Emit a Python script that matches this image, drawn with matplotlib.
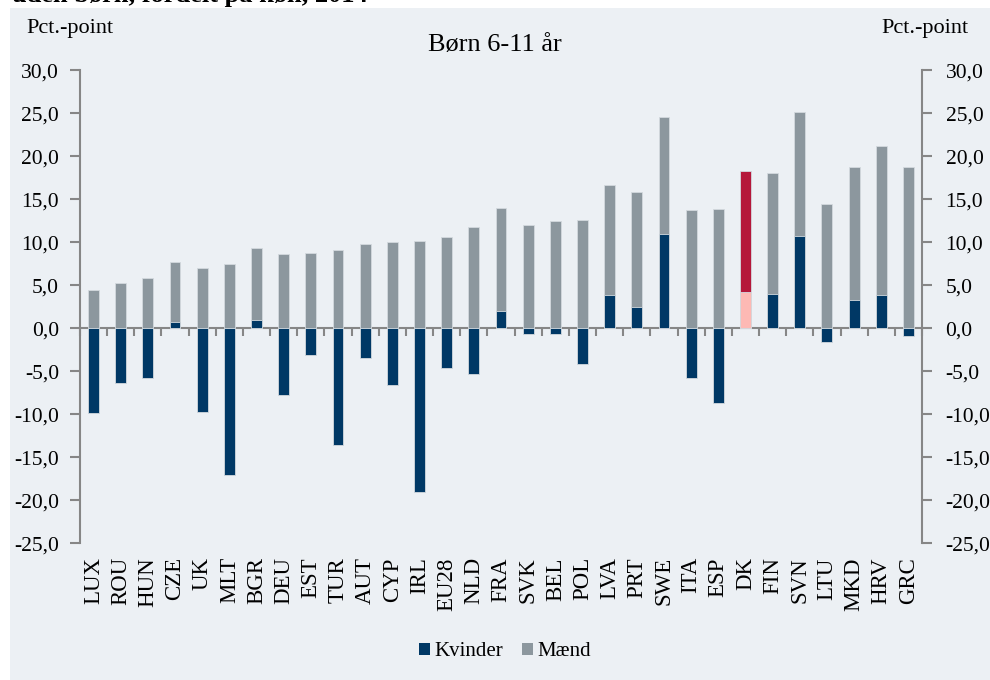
import matplotlib.pyplot as plt
from matplotlib.patches import Rectangle, Patch
import numpy as np

# Børn 6-11 år, forskel i pct.-point
lande = ["LUX", "ROU", "HUN", "CZE", "UK", "MLT", "BGR", "DEU", "EST", "TUR",
         "AUT", "CYP", "IRL", "EU28", "NLD", "FRA", "SVK", "BEL", "POL", "LVA",
         "PRT", "SWE", "ITA", "ESP", "DK", "FIN", "SVN", "LTU", "MKD", "HRV", "GRC"]
kvinder = [-9.8, -6.4, -5.8, 0.7, -9.7, -17.0, 1.0, -7.7, -3.1, -13.6,
           -3.5, -6.6, -19.0, -4.6, -5.3, 2.0, -0.7, -0.7, -4.2, 3.9,
           2.5, 11.0, -5.8, -8.7, 4.2, 4.0, 10.7, -1.6, 3.3, 3.9, -0.9]
maend = [4.4, 5.3, 5.9, 7.7, 7.0, 7.5, 9.3, 8.6, 8.7, 9.1,
         9.8, 10.0, 10.1, 10.6, 11.8, 14.0, 12.0, 12.5, 12.6, 16.7,
         15.8, 24.6, 13.7, 13.9, 18.3, 18.1, 25.1, 14.5, 18.8, 21.2, 18.7]
fremhaev = "DK"

navy = '#003865'
graa = '#8C979E'
roed = '#B5173A'
lyserod = '#FDB9B4'
akse = '#868686'

plt.rcParams['font.family'] = ['Liberation Serif', 'DejaVu Serif']

fig = plt.figure(figsize=(9.9, 6.8), dpi=100)
fig.patches.append(Rectangle((10 / 990, 0), 980 / 990, 672 / 680, transform=fig.transFigure,
                             facecolor='#ECF0F4', edgecolor='none', zorder=-10))

ax = fig.add_axes([0.0808, 0.201, 0.8505, 0.6956])
ax.set_facecolor('none')

x = np.arange(len(lande))
farve_m = [roed if l == fremhaev else graa for l in lande]
farve_k = [lyserod if l == fremhaev else navy for l in lande]
ax.bar(x, maend, width=0.4, color=farve_m, edgecolor='#D3D9DE', linewidth=0.6, zorder=2)
ax.bar(x, kvinder, width=0.4, color=farve_k, edgecolor='#D3D9DE', linewidth=0.6, zorder=3)

ax.set_xlim(-0.5, len(lande) - 0.5)
ax.set_ylim(-25, 30)
yt = np.arange(-25, 31, 5)
ylab = ["{:.1f}".format(v).replace('.', ',') for v in yt]
ax.set_yticks(yt, ylab)
ax.set_xticks(x, lande, rotation=90)
ax.tick_params(axis='x', length=0, pad=10, labelsize=16.5)
ax.tick_params(axis='y', direction='out', length=7, width=1.5, color=akse, pad=8, labelsize=15.5)

for s in ['top', 'bottom', 'right']:
    ax.spines[s].set_visible(False)
ax.spines['left'].set_color(akse)
ax.spines['left'].set_linewidth(1.5)

# nul-linje med små streger mellem landene
sek = ax.secondary_xaxis(0, transform=ax.transData)
sek.set_xticks(np.arange(len(lande) + 1) - 0.5, [''] * (len(lande) + 1))
sek.tick_params(direction='out', length=6, width=1.5, color=akse)
sek.spines['bottom'].set_color(akse)
sek.spines['bottom'].set_linewidth(1.5)

ax2 = ax.twinx()
ax2.set_ylim(ax.get_ylim())
ax2.set_yticks(yt, ylab)
ax2.tick_params(axis='y', direction='out', length=7, width=1.5, color=akse, pad=10, labelsize=15.5)
for s in ['top', 'bottom', 'left']:
    ax2.spines[s].set_visible(False)
ax2.spines['right'].set_color(akse)
ax2.spines['right'].set_linewidth(1.5)

fig.text(12 / 990, 1 - 2 / 680, "uden børn, fordelt på køn, 2014", fontsize=19,
         fontweight='bold', ha='left', va='baseline')
fig.text(0.5, 1 - 45 / 680, "Børn 6-11 år", fontsize=19, ha='center', va='center')
fig.text(26 / 990, 1 - 28 / 680, "Pct.-point", fontsize=16, ha='left', va='center')
fig.text(968 / 990, 1 - 28 / 680, "Pct.-point", fontsize=16, ha='right', va='center')

handles = [Patch(facecolor=navy, label='Kvinder'), Patch(facecolor=graa, label='Mænd')]
fig.legend(handles=handles, loc='center', bbox_to_anchor=(0.51, 1 - 652 / 680), ncol=2,
           frameon=False, fontsize=15, handlelength=0.55, handleheight=0.55,
           handletextpad=0.2, columnspacing=0.9)

fig.savefig('out.png', dpi=100)
